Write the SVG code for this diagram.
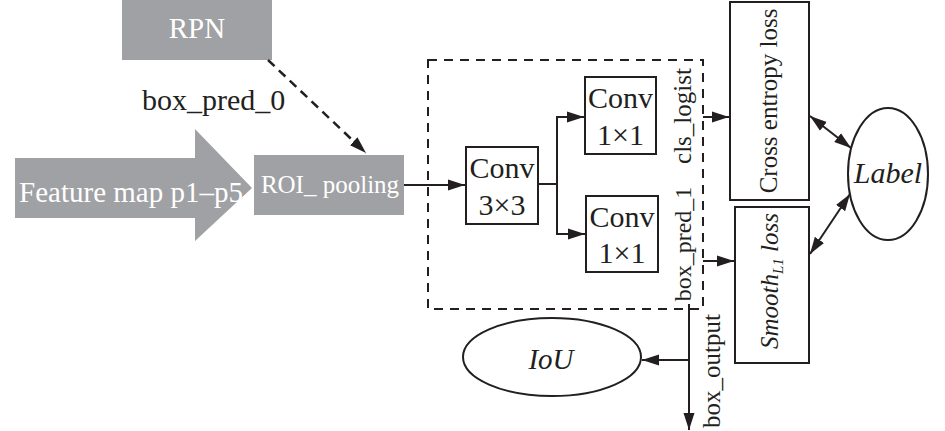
<svg xmlns="http://www.w3.org/2000/svg" width="945" height="431" viewBox="0 0 945 431">
<style>
.g{fill:#a0a1a4}
.w{fill:#ffffff;font-family:"Liberation Serif",serif}
.t{fill:#231f20;font-family:"Liberation Serif",serif}
.i{font-style:italic}
.b{fill:#ffffff;stroke:#231f20;stroke-width:2}
.c{fill:none;stroke:#231f20;stroke-width:2}
</style>
<defs>
<marker id="ah" markerUnits="userSpaceOnUse" markerWidth="18" markerHeight="12" refX="17" refY="6" orient="auto-start-reverse" viewBox="0 0 18 12">
<path d="M0,0.5 L17,6 L0,11.5 z" fill="#231f20"/>
</marker>
</defs>
<rect width="945" height="431" fill="#ffffff"/>

<g id="rpn">
<rect class="g" x="122" y="0" width="150" height="60"/>
<text class="w" x="197" y="38" font-size="29" text-anchor="middle">RPN</text>
</g>
<g id="feature-map">
<polygon class="g" points="15,158 195,158 195,129 252,188 195,241 195,218 15,218"/>
<text class="w" x="131" y="202" font-size="29" text-anchor="middle">Feature map p1–p5</text>
</g>
<g id="roi-pooling">
<rect class="g" x="254" y="155" width="150" height="60"/>
<text class="w" x="330" y="193" font-size="25" text-anchor="middle">ROI_ pooling</text>
</g>
<g id="head-group">
<rect x="428" y="60" width="275" height="249" fill="none" stroke="#231f20" stroke-width="2" stroke-dasharray="9,7"/>
</g>
<g id="conv3">
<rect class="b" x="466" y="147" width="72" height="77"/>
<text class="t" x="502" y="178" font-size="30" text-anchor="middle">Conv</text>
<text class="t" x="502" y="215" font-size="30" text-anchor="middle">3×3</text>
</g>
<g id="conv1-cls">
<rect class="b" x="585" y="77" width="71" height="77"/>
<text class="t" x="620.5" y="108" font-size="30" text-anchor="middle">Conv</text>
<text class="t" x="620.5" y="145" font-size="30" text-anchor="middle">1×1</text>
</g>
<g id="conv1-box">
<rect class="b" x="586" y="196" width="72" height="76"/>
<text class="t" x="622" y="227" font-size="30" text-anchor="middle">Conv</text>
<text class="t" x="622" y="263" font-size="30" text-anchor="middle">1×1</text>
</g>
<g id="ce-loss">
<rect class="b" x="730" y="2" width="79" height="198"/>
<text class="t" font-size="25" text-anchor="middle" transform="translate(777,101) rotate(-90)">Cross entropy loss</text>
</g>
<g id="smooth-loss">
<rect class="b" x="735" y="207" width="74" height="156"/>
<text class="t i" font-size="25" text-anchor="middle" transform="translate(778,281) rotate(-90)">Smooth<tspan font-size="15" dy="5">L1</tspan><tspan dy="-5"> loss</tspan></text>
</g>
<g id="label">
<ellipse class="b" cx="888" cy="174" rx="40" ry="66"/>
<text class="t i" x="888" y="183" font-size="30" text-anchor="middle">Label</text>
</g>
<g id="iou">
<ellipse class="b" cx="552" cy="357" rx="89" ry="39"/>
<text class="t i" x="551" y="369" font-size="29" text-anchor="middle">IoU</text>
</g>

<g id="connectors">
<line x1="268" y1="60" x2="366" y2="153" stroke="#231f20" stroke-width="2.5" stroke-dasharray="9,6" marker-end="url(#ah)"/>
<line class="c" x1="404" y1="185" x2="465" y2="185" marker-end="url(#ah)"/>
<polyline class="c" points="538,184 557,184"/>
<line class="c" x1="557" y1="117" x2="557" y2="234"/>
<line class="c" x1="556" y1="117" x2="584" y2="117" marker-end="url(#ah)"/>
<line class="c" x1="556" y1="234" x2="585" y2="234" marker-end="url(#ah)"/>
<line class="c" x1="703" y1="117" x2="729" y2="117" marker-end="url(#ah)"/>
<line class="c" x1="703" y1="261" x2="734" y2="261" marker-end="url(#ah)"/>
<line class="c" x1="689" y1="304" x2="689" y2="430" marker-end="url(#ah)"/>
<line class="c" x1="689" y1="360" x2="642" y2="360" marker-end="url(#ah)"/>
<line class="c" x1="810" y1="116" x2="851" y2="148" marker-start="url(#ah)" marker-end="url(#ah)"/>
<line class="c" x1="810" y1="254" x2="850" y2="194" marker-start="url(#ah)" marker-end="url(#ah)"/>
</g>
<g id="edge-labels">
<text class="t" x="142" y="110" font-size="30">box_pred_0</text>
<text class="t" font-size="25" text-anchor="middle" transform="translate(691,116) rotate(-90)">cls_logist</text>
<text class="t" font-size="24" text-anchor="middle" transform="translate(691,244) rotate(-90)">box_pred_1</text>
<text class="t" font-size="25" text-anchor="middle" transform="translate(720,371) rotate(-90)">box_output</text>
</g>
</svg>
